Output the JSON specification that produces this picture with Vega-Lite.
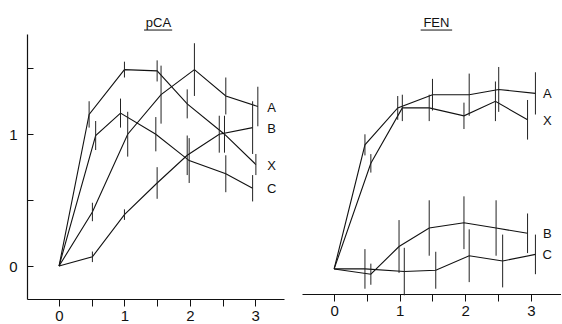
{
  "$schema": "https://vega.github.io/schema/vega-lite/v6.json",
  "background": "white",
  "padding": {"left": 8, "top": 16, "right": 0, "bottom": 0},
  "config": {
    "view": {"stroke": null},
    "font": "Liberation Sans",
    "concat": {"spacing": 18},
    "axis": {
      "domainColor": "#111", "tickColor": "#111", "labelColor": "#111",
      "domainWidth": 1.2, "tickWidth": 1, "grid": false,
      "labelFontSize": 15, "labelFont": "Liberation Sans"
    }
  },
  "data": {"values": [
    {"panel": "pCA", "series": "X", "x": 0, "y": 0, "err": 0},
    {"panel": "pCA", "series": "X", "x": 0.46, "y": 1.15, "err": 0.10},
    {"panel": "pCA", "series": "X", "x": 1.0, "y": 1.49, "err": 0.06},
    {"panel": "pCA", "series": "X", "x": 1.5, "y": 1.48, "err": 0.08},
    {"panel": "pCA", "series": "X", "x": 1.96, "y": 1.23, "err": 0.11},
    {"panel": "pCA", "series": "X", "x": 2.53, "y": 1.0, "err": 0.14},
    {"panel": "pCA", "series": "X", "x": 3.01, "y": 0.77, "err": 0.08},
    {"panel": "pCA", "series": "A", "x": 0, "y": 0, "err": 0},
    {"panel": "pCA", "series": "A", "x": 0.51, "y": 0.41, "err": 0.07},
    {"panel": "pCA", "series": "A", "x": 1.05, "y": 1.0, "err": 0.17},
    {"panel": "pCA", "series": "A", "x": 1.56, "y": 1.30, "err": 0.22},
    {"panel": "pCA", "series": "A", "x": 2.07, "y": 1.49, "err": 0.20},
    {"panel": "pCA", "series": "A", "x": 2.55, "y": 1.29, "err": 0.14},
    {"panel": "pCA", "series": "A", "x": 3.04, "y": 1.21, "err": 0.15},
    {"panel": "pCA", "series": "B", "x": 0, "y": 0, "err": 0},
    {"panel": "pCA", "series": "B", "x": 0.51, "y": 0.07, "err": 0.04},
    {"panel": "pCA", "series": "B", "x": 1.0, "y": 0.39, "err": 0.04},
    {"panel": "pCA", "series": "B", "x": 1.5, "y": 0.63, "err": 0.12},
    {"panel": "pCA", "series": "B", "x": 1.96, "y": 0.84, "err": 0.15},
    {"panel": "pCA", "series": "B", "x": 2.45, "y": 1.0, "err": 0.14},
    {"panel": "pCA", "series": "B", "x": 2.96, "y": 1.05, "err": 0.20},
    {"panel": "pCA", "series": "C", "x": 0, "y": 0, "err": 0},
    {"panel": "pCA", "series": "C", "x": 0.56, "y": 0.99, "err": 0.11},
    {"panel": "pCA", "series": "C", "x": 0.94, "y": 1.16, "err": 0.11},
    {"panel": "pCA", "series": "C", "x": 1.48, "y": 1.0, "err": 0.13},
    {"panel": "pCA", "series": "C", "x": 1.99, "y": 0.80, "err": 0.17},
    {"panel": "pCA", "series": "C", "x": 2.55, "y": 0.70, "err": 0.14},
    {"panel": "pCA", "series": "C", "x": 2.96, "y": 0.59, "err": 0.10},
    {"panel": "FEN", "series": "A", "x": 0, "y": 0, "err": 0},
    {"panel": "FEN", "series": "A", "x": 0.47, "y": 0.94, "err": 0.08},
    {"panel": "FEN", "series": "A", "x": 0.97, "y": 1.22, "err": 0.09},
    {"panel": "FEN", "series": "A", "x": 1.5, "y": 1.32, "err": 0.12},
    {"panel": "FEN", "series": "A", "x": 2.06, "y": 1.32, "err": 0.16},
    {"panel": "FEN", "series": "A", "x": 2.51, "y": 1.36, "err": 0.17},
    {"panel": "FEN", "series": "A", "x": 3.07, "y": 1.33, "err": 0.16},
    {"panel": "FEN", "series": "X", "x": 0, "y": 0, "err": 0},
    {"panel": "FEN", "series": "X", "x": 0.56, "y": 0.80, "err": 0.07},
    {"panel": "FEN", "series": "X", "x": 1.04, "y": 1.22, "err": 0.10},
    {"panel": "FEN", "series": "X", "x": 1.45, "y": 1.22, "err": 0.10},
    {"panel": "FEN", "series": "X", "x": 1.98, "y": 1.16, "err": 0.10},
    {"panel": "FEN", "series": "X", "x": 2.46, "y": 1.27, "err": 0.15},
    {"panel": "FEN", "series": "X", "x": 2.95, "y": 1.13, "err": 0.15},
    {"panel": "FEN", "series": "B", "x": 0, "y": 0, "err": 0},
    {"panel": "FEN", "series": "B", "x": 0.56, "y": -0.04, "err": 0.08},
    {"panel": "FEN", "series": "B", "x": 0.99, "y": 0.17, "err": 0.20},
    {"panel": "FEN", "series": "B", "x": 1.45, "y": 0.31, "err": 0.21},
    {"panel": "FEN", "series": "B", "x": 1.98, "y": 0.35, "err": 0.20},
    {"panel": "FEN", "series": "B", "x": 2.47, "y": 0.31, "err": 0.21},
    {"panel": "FEN", "series": "B", "x": 2.95, "y": 0.27, "err": 0.15},
    {"panel": "FEN", "series": "C", "x": 0, "y": 0, "err": 0},
    {"panel": "FEN", "series": "C", "x": 0.47, "y": 0.0, "err": 0.15},
    {"panel": "FEN", "series": "C", "x": 1.07, "y": -0.02, "err": 0.18},
    {"panel": "FEN", "series": "C", "x": 1.55, "y": -0.01, "err": 0.14},
    {"panel": "FEN", "series": "C", "x": 2.06, "y": 0.10, "err": 0.20},
    {"panel": "FEN", "series": "C", "x": 2.57, "y": 0.06, "err": 0.20},
    {"panel": "FEN", "series": "C", "x": 3.07, "y": 0.11, "err": 0.15}
  ]},
  "hconcat": [
    {
      "width": 257,
      "height": 265,
      "transform": [{"filter": "datum.panel === 'pCA'"}],
      "encoding": {
        "x": {"field": "x", "type": "quantitative", "title": null,
              "scale": {"domain": [-0.49, 3.44], "nice": false, "zero": false},
              "axis": {"values": [0, 0.5, 1, 1.5, 2, 2.5, 3], "tickSize": 7, "labelPadding": 2,
                       "labelExpr": "datum.value % 1 === 0 ? format(datum.value, 'd') : ''"}},
        "y": {"field": "y", "type": "quantitative", "title": null,
              "scale": {"domain": [-0.25, 1.76], "nice": false, "zero": false},
              "axis": {"values": [0, 0.5, 1, 1.5], "tickSize": -6, "labelPadding": 16,
                       "labelExpr": "datum.value % 1 === 0 ? format(datum.value, 'd') : ''"}}
      },
      "layer": [
        {"mark": {"type": "line", "color": "#111", "strokeWidth": 1.1},
         "encoding": {"detail": {"field": "series"}}},
        {"transform": [{"filter": "datum.err > 0"}],
         "mark": {"type": "errorbar", "color": "#222", "thickness": 1},
         "encoding": {"yError": {"field": "err"}}},
        {"transform": [
           {"joinaggregate": [{"op": "max", "field": "x", "as": "xmax"}], "groupby": ["series"]},
           {"filter": "datum.x === datum.xmax"}],
         "mark": {"type": "text", "fontSize": 13, "color": "#111", "align": "center", "baseline": "middle", "dy": 1},
         "encoding": {"x": {"datum": 3.25}, "text": {"field": "series"}}},
        {"transform": [{"filter": "datum.series === 'A' && datum.x === 0"}],
         "mark": {"type": "text", "fontSize": 13, "color": "#111", "align": "center", "baseline": "alphabetic"},
         "encoding": {"x": {"datum": 1.52}, "y": {"datum": 1.815}, "text": {"value": "pCA"}}},
        {"transform": [{"filter": "datum.series === 'A' && datum.x === 0"}],
         "mark": {"type": "rule", "color": "#111", "strokeWidth": 1},
         "encoding": {"x": {"datum": 1.3}, "x2": {"datum": 1.73}, "y": {"datum": 1.79}}}
      ]
    },
    {
      "width": 259,
      "height": 260,
      "transform": [{"filter": "datum.panel === 'FEN'"}],
      "encoding": {
        "x": {"field": "x", "type": "quantitative", "title": null,
              "scale": {"domain": [-0.49, 3.46], "nice": false, "zero": false},
              "axis": {"values": [0, 0.5, 1, 1.5, 2, 2.5, 3], "tickSize": 7, "labelPadding": 2,
                       "labelExpr": "datum.value % 1 === 0 ? format(datum.value, 'd') : ''"}},
        "y": {"field": "y", "type": "quantitative", "title": null,
              "scale": {"domain": [-0.19, 1.78], "nice": false, "zero": false},
              "axis": null}
      },
      "layer": [
        {"mark": {"type": "line", "color": "#111", "strokeWidth": 1.1},
         "encoding": {"detail": {"field": "series"}}},
        {"transform": [{"filter": "datum.err > 0"}],
         "mark": {"type": "errorbar", "color": "#222", "thickness": 1},
         "encoding": {"yError": {"field": "err"}}},
        {"transform": [
           {"joinaggregate": [{"op": "max", "field": "x", "as": "xmax"}], "groupby": ["series"]},
           {"filter": "datum.x === datum.xmax"}],
         "mark": {"type": "text", "fontSize": 13, "color": "#111", "align": "center", "baseline": "middle", "dy": 1},
         "encoding": {"x": {"datum": 3.25}, "text": {"field": "series"}}},
        {"transform": [{"filter": "datum.series === 'A' && datum.x === 0"}],
         "mark": {"type": "text", "fontSize": 13, "color": "#111", "align": "center", "baseline": "alphabetic"},
         "encoding": {"x": {"datum": 1.56}, "y": {"datum": 1.83}, "text": {"value": "FEN"}}},
        {"transform": [{"filter": "datum.series === 'A' && datum.x === 0"}],
         "mark": {"type": "rule", "color": "#111", "strokeWidth": 1},
         "encoding": {"x": {"datum": 1.32}, "x2": {"datum": 1.8}, "y": {"datum": 1.81}}}
      ]
    }
  ]
}
